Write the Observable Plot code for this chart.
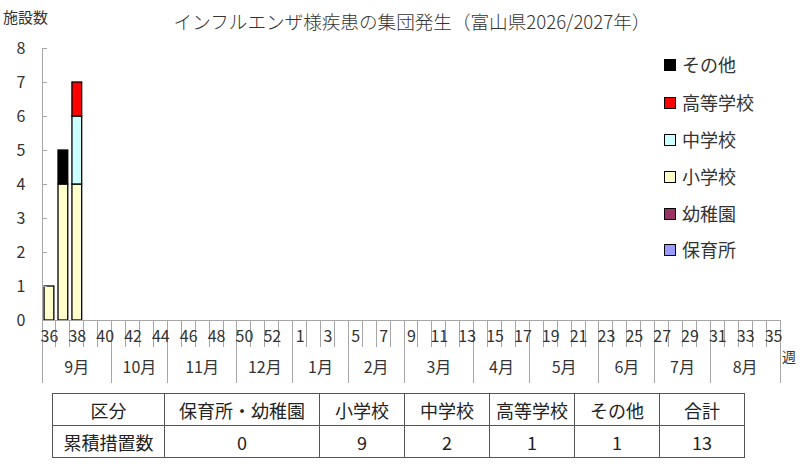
<!DOCTYPE html>
<html><head><meta charset="utf-8">
<script src="https://cdn.jsdelivr.net/npm/d3@7"></script>
<script src="https://cdn.jsdelivr.net/npm/@observablehq/plot@0.6"></script>
<style>
body{margin:0;background:#fff;font-family:"Noto Sans CJK JP","Noto Sans",sans-serif;color:#333;}
#wrap{position:relative;width:800px;height:473px;overflow:hidden;}
#wrap svg{position:absolute;left:0;top:0;}
.abs{position:absolute;line-height:1;white-space:nowrap;}
#title{left:0;width:824px;top:12px;text-align:center;font-size:18.6px;font-weight:300;}
#ylab{left:3px;top:9px;font-size:15px;}
.leg{position:absolute;left:664px;font-size:18px;line-height:1;white-space:nowrap;}
.leg span.sw{position:absolute;left:0;width:10px;height:10px;border:1px solid #000;}
.leg span.tx{position:absolute;left:18px;top:0;}
#tbl{position:absolute;left:52px;top:393px;border-collapse:collapse;table-layout:fixed;font-size:18px;color:#222;}
#tbl td{border:1px solid #555;height:31px;padding:0;text-align:center;vertical-align:middle;line-height:1;}
</style></head>
<body><div id="wrap"></div>
<script>
// ---- data ----
const weeks = ["36","37","38","39","40","41","42","43","44","45","46","47","48","49","50","51","52","53",
  "1","2","3","4","5","6","7","8","9","10","11","12","13","14","15","16","17","18","19","20",
  "21","22","23","24","25","26","27","28","29","30","31","32","33","34","35"];
const monthLabels = ["9月","10月","11月","12月","1月","2月","3月","4月","5月","6月","7月","8月"];
const monthWeekCounts = [5,4,5,4,4,4,5,4,5,4,4,5];
const categories = ["保育所","幼稚園","小学校","中学校","高等学校","その他"];
const colors = ["#9999FF","#993366","#FFFFCC","#CCFFFF","#FF0000","#000000"];
const barWeeks = ["36","37","38"];
const hoikusho = [0,0,0];
const youchien = [0,0,0];
const shougakkou = [1,4,4];
const chuugakkou = [0,0,2];
const koutougakkou = [0,0,1];
const sonota = [0,1,0];
const yTicks = [0,1,2,3,4,5,6,7,8];
const tableHeader = ["区分","保育所・幼稚園","小学校","中学校","高等学校","その他","合計"];
const tableRow = ["累積措置数","0","9","2","1","1","13"];
const colWidths = [112,155,85,85,85,85,85];

// ---- build rows ----
const seriesValues = [hoikusho, youchien, shougakkou, chuugakkou, koutougakkou, sonota];
const rows = [];
barWeeks.forEach((w, i) => {
  categories.forEach((c, j) => {
    const v = seriesValues[j][i];
    if (v > 0) rows.push({week: w, cat: c, value: v});
  });
});

function axesMark(index, scales, values, dims) {
  const x = scales.x, y = scales.y;
  const step = x(weeks[1]) - x(weeks[0]);
  const bw = typeof x.bandwidth === "function" ? x.bandwidth() : step * 0.7;
  const off = (step - bw) / 2;
  const bound = i => i < weeks.length ? x(weeks[i]) - off : x(weeks[weeks.length - 1]) - off + step;
  const x0 = bound(0), x1 = bound(weeks.length);
  const y0 = y(0), yTop = y(8);
  const g = d3.create("svg:g").attr("stroke", "#a6a6a6").attr("stroke-width", 1).attr("shape-rendering", "crispEdges");
  g.append("line").attr("x1", x0).attr("x2", x0).attr("y1", yTop).attr("y2", y0);
  yTicks.forEach(t => g.append("line").attr("x1", x0).attr("x2", x0 + 5).attr("y1", y(t)).attr("y2", y(t)));
  g.append("line").attr("x1", x0).attr("x2", x1).attr("y1", y0).attr("y2", y0);
  for (let i = 0; i <= weeks.length; i++) {
    g.append("line").attr("x1", bound(i)).attr("x2", bound(i)).attr("y1", y0).attr("y2", y0 + 27);
  }
  let acc = 0;
  const mb = [0];
  monthWeekCounts.forEach(n => { acc += n; mb.push(acc); });
  mb.forEach(i => g.append("line").attr("x1", bound(i)).attr("x2", bound(i)).attr("y1", y0).attr("y2", y0 + 63));
  monthLabels.forEach((m, k) => {
    g.append("text").attr("stroke", "none").attr("fill", "#333").attr("font-size", 16)
      .attr("text-anchor", "middle").attr("x", (bound(mb[k]) + bound(mb[k + 1])) / 2)
      .attr("y", y0 + 47).attr("dy", "0.35em").text(m);
  });
  g.append("text").attr("stroke", "none").attr("fill", "#333").attr("font-size", 14)
    .attr("text-anchor", "middle").attr("x", x1 + 9).attr("y", y0 + 37).attr("dy", "0.35em").text("週");
  return g.node();
}

const chart = Plot.plot({
  width: 800,
  height: 390,
  marginTop: 48,
  marginBottom: 70,
  marginLeft: 42,
  marginRight: 20,
  style: {fontFamily: '"Noto Sans CJK JP","Noto Sans",sans-serif', fontSize: "16px", color: "#333", background: "transparent", overflow: "visible"},
  x: {type: "band", domain: weeks, paddingInner: 0.3, paddingOuter: 0.15, align: 0.5},
  y: {domain: [0, 8]},
  color: {domain: categories, range: colors},
  marks: [
    Plot.barY(rows, {x: "week", y: "value", fill: "cat", stroke: "#000", strokeWidth: 1.3, order: categories}),
    axesMark,
    Plot.axisX({tickSize: 0, tickPadding: 10, fontSize: 16, label: null,
      tickFormat: d => weeks.indexOf(d) % 2 === 0 ? d : ""}),
    Plot.axisY({ticks: yTicks, tickSize: 0, tickPadding: 17, fontSize: 16, label: null})
  ]
});

const wrap = document.getElementById("wrap");
wrap.appendChild(chart);

const title = document.createElement("div");
title.className = "abs"; title.id = "title";
title.textContent = "インフルエンザ様疾患の集団発生（富山県2026/2027年）";
wrap.appendChild(title);

const ylab = document.createElement("div");
ylab.className = "abs"; ylab.id = "ylab"; ylab.textContent = "施設数";
wrap.appendChild(ylab);

const legendCenters = [65, 103, 140, 177, 214, 250];
categories.slice().reverse().forEach((c, k) => {
  const d = document.createElement("div");
  d.className = "leg";
  d.style.top = (legendCenters[k] - 10) + "px";
  const sw = document.createElement("span");
  sw.className = "sw";
  sw.style.background = colors[categories.indexOf(c)];
  sw.style.top = "4px";
  const tx = document.createElement("span");
  tx.className = "tx"; tx.textContent = c;
  d.appendChild(sw); d.appendChild(tx);
  wrap.appendChild(d);
});

const tbl = document.createElement("table");
tbl.id = "tbl";
const cg = document.createElement("colgroup");
colWidths.forEach(w => { const c = document.createElement("col"); c.style.width = w + "px"; cg.appendChild(c); });
tbl.appendChild(cg);
[tableHeader, tableRow].forEach(r => {
  const tr = document.createElement("tr");
  r.forEach(v => { const td = document.createElement("td"); td.textContent = v; tr.appendChild(td); });
  tbl.appendChild(tr);
});
tbl.style.width = colWidths.reduce((a, b) => a + b, 0) + "px";
wrap.appendChild(tbl);
</script>
</body></html>
